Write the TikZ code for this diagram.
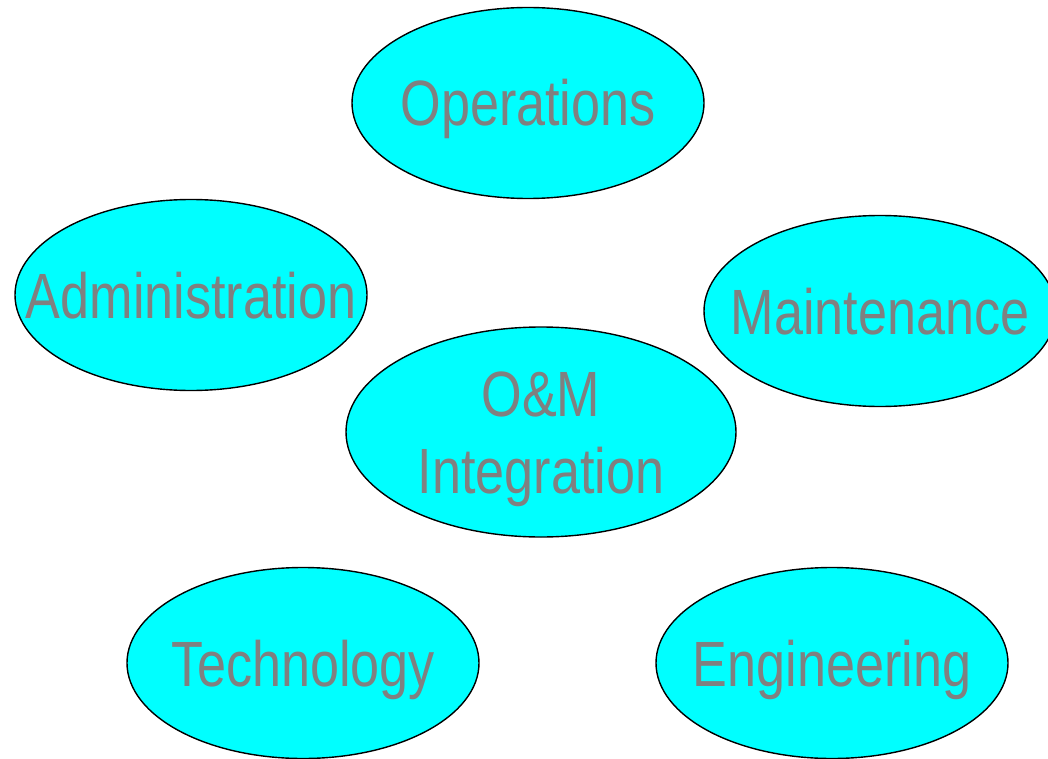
\documentclass[tikz,border=0pt]{standalone}
\usepackage{fontspec}
\setmainfont[FakeStretch=0.815]{Liberation Sans}
\usetikzlibrary{shapes.geometric}
\definecolor{blobfill}{HTML}{00FFFF}
\definecolor{blobtext}{HTML}{808080}
\begin{document}
\begin{tikzpicture}[x=1pt,y=-1pt,
  blob/.style={ellipse,draw=black,line width=1.4pt,fill=blobfill,inner sep=0pt,
    minimum width=352pt,minimum height=191pt},
  lbl/.style={inner sep=0pt,text=blobtext,font=\fontsize{64}{77}\selectfont,
    text height=46pt,text depth=0pt,align=center}]
\useasboundingbox (0,0) rectangle (1048,759);
\node[blob] (ops) at (528,103) {};
\node[blob] (adm) at (191,295) {};
\node[blob] (mnt) at (880,311) {};
\node[blob,minimum width=390pt,minimum height=210pt] (om) at (541,432) {};
\node[blob] (tec) at (303,663) {};
\node[blob] (eng) at (832,663) {};
\node[lbl] (ops-t) at (ops) {Operations};
\node[lbl] (adm-t) at (adm) {Administration};
\node[lbl] (mnt-t) at (mnt) {Maintenance};
\node[lbl,text height=123pt] (om-t) at (om) {O\&M\\Integration};
\node[lbl] (tec-t) at (tec) {Technology};
\node[lbl] (eng-t) at (eng) {Engineering};
\end{tikzpicture}
\end{document}
